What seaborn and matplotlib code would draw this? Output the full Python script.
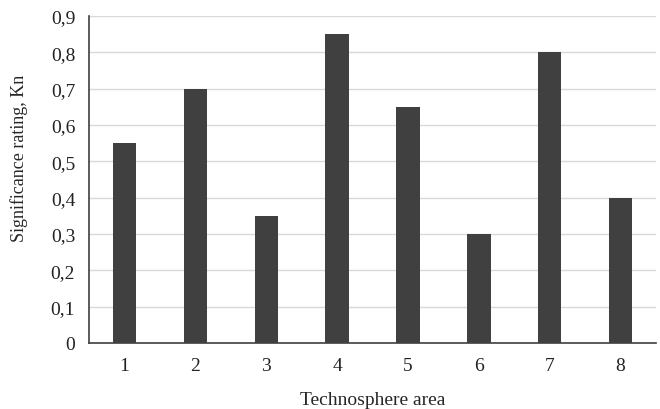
import matplotlib
matplotlib.use("Agg")
import matplotlib.pyplot as plt
import seaborn as sns
import pandas as pd
from matplotlib.ticker import FuncFormatter

areas = ["1", "2", "3", "4", "5", "6", "7", "8"]
ratings = [0.55, 0.70, 0.35, 0.85, 0.65, 0.30, 0.80, 0.40]

df = pd.DataFrame({"area": areas, "rating": ratings})

sns.set_style("white")
plt.rcParams["font.family"] = ["Liberation Serif", "DejaVu Serif"]

fig = plt.figure(figsize=(6.6, 4.1), dpi=100)
ax = fig.add_axes([0.135, 0.161, 0.859, 0.798])

sns.barplot(data=df, x="area", y="rating", color="#404040", width=0.33,
            saturation=1, linewidth=0, edgecolor="none", ax=ax, zorder=3)

ax.set_ylim(0, 0.9)
ax.set_yticks([i / 10 for i in range(10)])
ax.yaxis.set_major_formatter(FuncFormatter(lambda v, p: "0" if v == 0 else f"{v:.1f}".replace(".", ",")))
ax.yaxis.grid(True, color="#d9d9d9", linewidth=1, zorder=0)
ax.set_axisbelow(True)

for s in ["top", "right"]:
    ax.spines[s].set_visible(False)
for s in ["left", "bottom"]:
    ax.spines[s].set_color("#404040")
    ax.spines[s].set_linewidth(1.2)

ax.tick_params(axis="both", labelsize=14, length=0, pad=10, colors="#222222")
ax.set_xlabel("Technosphere area", fontsize=14, labelpad=12)
ax.set_ylabel("Significance rating, Kn", fontsize=13)
ax.yaxis.set_label_coords(-0.108, 0.567)

fig.savefig("out.png", dpi=100)
